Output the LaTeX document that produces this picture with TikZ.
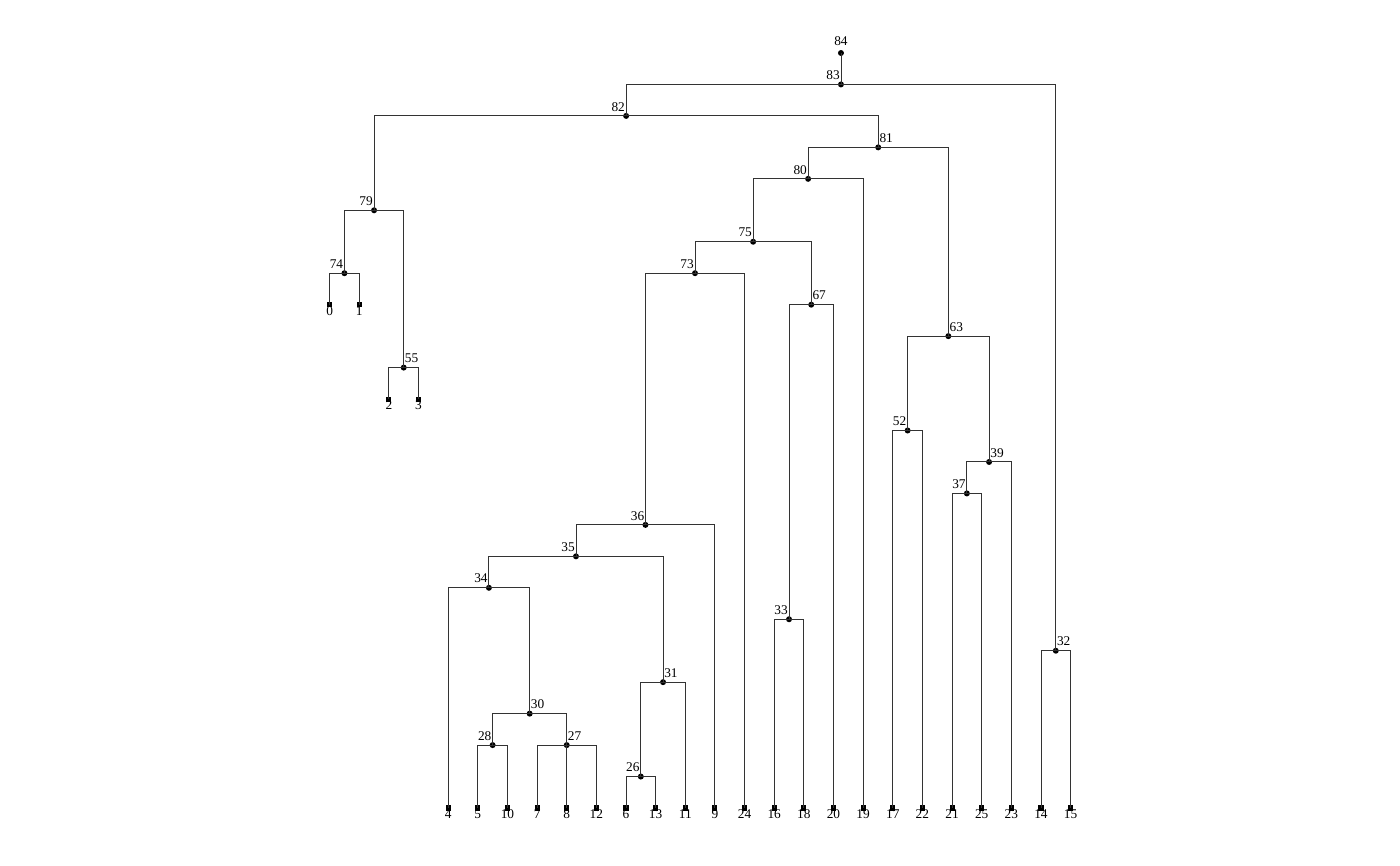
\documentclass[tikz,border=0pt]{standalone}
\usepackage{fontspec}
\setmainfont{Liberation Serif}
\begin{document}
\begin{tikzpicture}[x=0.75pt,y=-0.75pt,
  edge/.style={draw=black!80,line width=0.7pt},
  dot/.style={circle,fill=black,inner sep=0pt,minimum size=4.5pt},
  leaf/.style={rectangle,fill=black,inner sep=0pt,minimum size=3.8pt},
  lbl/.style={inner sep=0pt,font=\fontsize{10}{12}\selectfont},
  lL/.style={lbl,anchor=base east,xshift=-0.75pt,yshift=3.6pt},
  lR/.style={lbl,anchor=base west,xshift=0.75pt,yshift=3.6pt},
  lT/.style={lbl,anchor=base,yshift=5.6pt},
  lB/.style={lbl,anchor=base,yshift=-7.9pt}]
\useasboundingbox (0,0) rectangle (1400,866);
\begin{scope}[shift={(329.6,53)},x=22.23pt,y=-23.594pt]
% leaves
\foreach \n/\c/\l in {0/0/8,1/1/8,2/2/11,3/3/11,4/4/24,5/5/24,10/6/24,7/7/24,8/8/24,12/9/24,6/10/24,13/11/24,11/12/24,9/13/24,24/14/24,16/15/24,18/16/24,20/17/24,19/18/24,17/19/24,22/20/24,21/21/24,25/22/24,23/23/24,14/24/24,15/25/24}{
  \node[leaf] (n\n) at (\c,\l) {};
  \node[lB] (t\n) at (n\n) {\n};
}
% internal nodes
\foreach \n/\c/\l/\s in {74/0.5/7/lL,55/2.5/10/lR,79/1.5/5/lL,28/5.5/22/lL,27/8/22/lR,30/6.75/21/lR,34/5.375/17/lL,26/10.5/23/lL,31/11.25/20/lR,35/8.3125/16/lL,36/10.65625/15/lL,73/12.328125/7/lL,33/15.5/18/lL,67/16.25/8/lR,75/14.2890625/6/lL,80/16.14453125/4/lL,52/19.5/12/lL,37/21.5/14/lL,39/22.25/13/lR,63/20.875/9/lR,81/18.509765625/3/lR,82/10.0048828125/2/lL,32/24.5/19/lR,83/17.25244140625/1/lL,84/17.25244140625/0/lT}{
  \node[dot] (n\n) at (\c,\l) {};
  \node[\s] (t\n) at (n\n) {\n};
}
\end{scope}
% edges
\draw[edge] (n84.center) -- (n83.center);
\foreach \p/\ch in {83/{82,32},82/{79,81},79/{74,55},74/{0,1},55/{2,3},81/{80,63},80/{75,19},75/{73,67},73/{36,24},36/{35,9},35/{34,31},34/{4,30},30/{28,27},28/{5,10},27/{7,8,12},31/{26,11},26/{6,13},67/{33,20},33/{16,18},63/{52,39},52/{17,22},39/{37,23},37/{21,25},32/{14,15}}{
  \foreach \c in \ch {
    \draw[edge] (n\p.center) -| (n\c.center);
  }
}
\end{tikzpicture}
\end{document}
